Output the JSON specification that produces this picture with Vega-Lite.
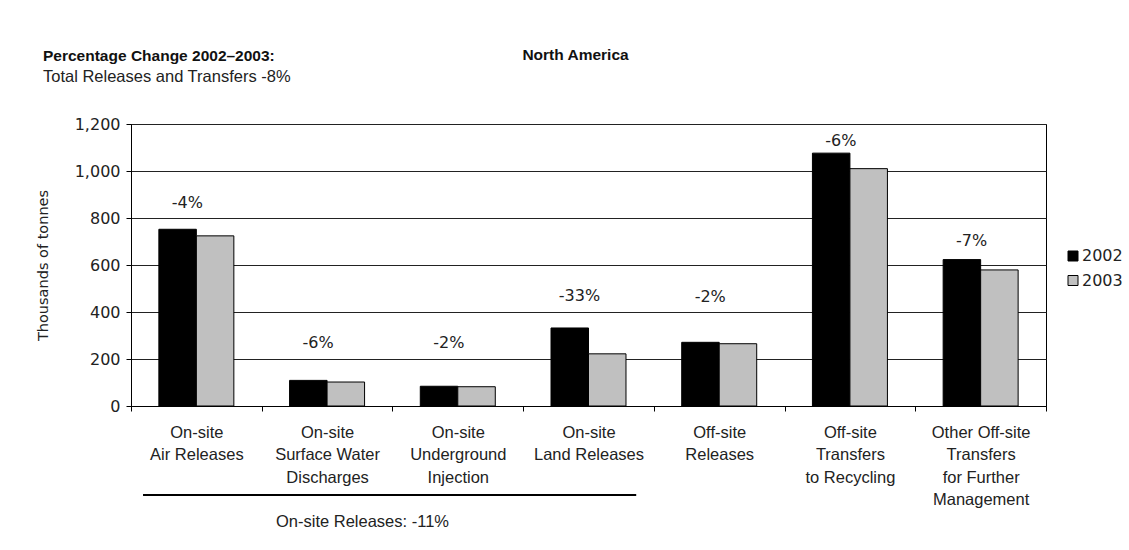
{
  "$schema": "https://vega.github.io/schema/vega-lite/v6.json",
  "width": 915,
  "height": 282,
  "autosize": {"type": "none"},
  "padding": {"left": 131, "top": 124, "right": 83, "bottom": 144},
  "background": "#ffffff",
  "datasets": {
    "bars": [
      {"category": "On-site|Air Releases", "year": "2002", "value": 752},
      {"category": "On-site|Air Releases", "year": "2003", "value": 724},
      {"category": "On-site|Surface Water|Discharges", "year": "2002", "value": 109},
      {"category": "On-site|Surface Water|Discharges", "year": "2003", "value": 102},
      {"category": "On-site|Underground|Injection", "year": "2002", "value": 84},
      {"category": "On-site|Underground|Injection", "year": "2003", "value": 82},
      {"category": "On-site|Land Releases", "year": "2002", "value": 332},
      {"category": "On-site|Land Releases", "year": "2003", "value": 222},
      {"category": "Off-site|Releases", "year": "2002", "value": 271},
      {"category": "Off-site|Releases", "year": "2003", "value": 265},
      {"category": "Off-site|Transfers|to Recycling", "year": "2002", "value": 1076},
      {"category": "Off-site|Transfers|to Recycling", "year": "2003", "value": 1010},
      {"category": "Other Off-site|Transfers|for Further|Management", "year": "2002", "value": 623},
      {"category": "Other Off-site|Transfers|for Further|Management", "year": "2003", "value": 579}
    ],
    "changes": [
      {"category": "On-site|Air Releases", "change": "-4%", "labelY": 865},
      {"category": "On-site|Surface Water|Discharges", "change": "-6%", "labelY": 268},
      {"category": "On-site|Underground|Injection", "change": "-2%", "labelY": 268},
      {"category": "On-site|Land Releases", "change": "-33%", "labelY": 469},
      {"category": "Off-site|Releases", "change": "-2%", "labelY": 465},
      {"category": "Off-site|Transfers|to Recycling", "change": "-6%", "labelY": 1129},
      {"category": "Other Off-site|Transfers|for Further|Management", "change": "-7%", "labelY": 703}
    ],
    "bracket": [
      {"from": "On-site|Air Releases", "to": "On-site|Land Releases", "level": -379}
    ]
  },
  "title": {
    "text": "Percentage Change 2002–2003:",
    "subtitle": "Total Releases and Transfers -8%",
    "anchor": "start",
    "frame": "group",
    "dx": -88,
    "dy": 42,
    "font": "Liberation Sans, Arial, sans-serif",
    "fontSize": 15.5,
    "fontWeight": "bold",
    "color": "#111111",
    "subtitleFont": "Liberation Sans, Arial, sans-serif",
    "subtitleFontSize": 16.5,
    "subtitleFontWeight": "normal",
    "subtitleColor": "#222222",
    "subtitlePadding": 4
  },
  "config": {
    "view": {"stroke": "#000000", "strokeWidth": 1},
    "axis": {"labelFont": "DejaVu Sans, sans-serif", "titleFont": "DejaVu Sans, sans-serif"}
  },
  "resolve": {"axis": {"x": "independent"}},
  "layer": [
    {
      "data": {"name": "bars"},
      "mark": {"type": "bar", "stroke": "#000000", "strokeWidth": 1},
      "encoding": {
        "x": {
          "field": "category",
          "type": "nominal",
          "sort": null,
          "scale": {
            "domain": [
              "On-site|Air Releases",
              "On-site|Surface Water|Discharges",
              "On-site|Underground|Injection",
              "On-site|Land Releases",
              "Off-site|Releases",
              "Off-site|Transfers|to Recycling",
              "Other Off-site|Transfers|for Further|Management"
            ],
            "paddingInner": 0,
            "paddingOuter": 0
          },
          "axis": {
            "orient": "bottom",
            "tickBand": "extent",
            "tickSize": 5,
            "tickColor": "#000000",
            "domainColor": "#000000",
            "labelAngle": 0,
            "labelPadding": 13,
            "labelBaseline": "top",
            "labelLineHeight": 22.5,
            "labelFont": "Liberation Sans, Arial, sans-serif",
            "labelFontSize": 16.5,
            "labelColor": "#222222",
            "labelLimit": 300,
            "labelOverlap": false,
            "labelExpr": "split(datum.label, '|')",
            "title": "On-site Releases: -11%",
            "titleX": 231,
            "titleY": 120,
            "titleAlign": "center",
            "titleBaseline": "alphabetic",
            "titleFont": "Liberation Sans, Arial, sans-serif",
            "titleFontSize": 16.5,
            "titleFontWeight": "normal",
            "titleColor": "#222222"
          }
        },
        "xOffset": {
          "field": "year",
          "type": "nominal",
          "scale": {"paddingInner": 0, "paddingOuter": 0.743}
        },
        "y": {
          "field": "value",
          "type": "quantitative",
          "scale": {"domain": [0, 1200], "nice": false},
          "axis": {
            "values": [0, 200, 400, 600, 800, 1000, 1200],
            "format": ",d",
            "tickSize": 5,
            "tickColor": "#000000",
            "domainColor": "#000000",
            "gridColor": "#222222",
            "gridOpacity": 1,
            "labelPadding": 6,
            "labelFontSize": 16,
            "labelColor": "#222222",
            "title": "Thousands of tonnes",
            "titleFontSize": 14.5,
            "titleFontWeight": "normal",
            "titleColor": "#222222",
            "titleAngle": -90,
            "titleX": -88,
            "titleY": 141,
            "titleAlign": "center",
            "titleBaseline": "middle"
          }
        },
        "color": {
          "field": "year",
          "type": "nominal",
          "scale": {"domain": ["2002", "2003"], "range": ["#000000", "#c0c0c0"]},
          "legend": {
            "title": null,
            "orient": "none",
            "legendX": 934,
            "legendY": 124,
            "padding": 0,
            "symbolType": "square",
            "symbolSize": 100,
            "symbolStrokeColor": "#000000",
            "symbolStrokeWidth": 1,
            "labelFont": "DejaVu Sans, sans-serif",
            "labelFontSize": 16,
            "labelColor": "#222222",
            "labelOffset": 1,
            "rowPadding": 8.5
          }
        }
      }
    },
    {
      "data": {"name": "changes"},
      "mark": {"type": "text", "font": "DejaVu Sans, sans-serif", "fontSize": 16, "color": "#222222", "baseline": "middle", "align": "center", "dx": -9},
      "encoding": {
        "x": {
          "field": "category",
          "type": "nominal",
          "sort": null,
          "axis": {
            "orient": "top",
            "labels": false,
            "ticks": false,
            "domain": false,
            "grid": false,
            "title": "North America",
            "titleX": 444,
            "titleY": -65,
            "titleAlign": "center",
            "titleBaseline": "alphabetic",
            "titleFont": "Liberation Sans, Arial, sans-serif",
            "titleFontSize": 15.5,
            "titleFontWeight": "bold",
            "titleColor": "#111111"
          }
        },
        "y": {"field": "labelY", "type": "quantitative"},
        "text": {"field": "change", "type": "nominal"}
      }
    },
    {
      "data": {"name": "bracket"},
      "mark": {"type": "rule", "color": "#000000", "strokeWidth": 2},
      "encoding": {
        "x": {"field": "from", "type": "nominal", "sort": null, "bandPosition": 0.092, "axis": null},
        "x2": {"field": "to", "bandPosition": 0.865},
        "y": {"field": "level", "type": "quantitative"}
      }
    }
  ]
}
